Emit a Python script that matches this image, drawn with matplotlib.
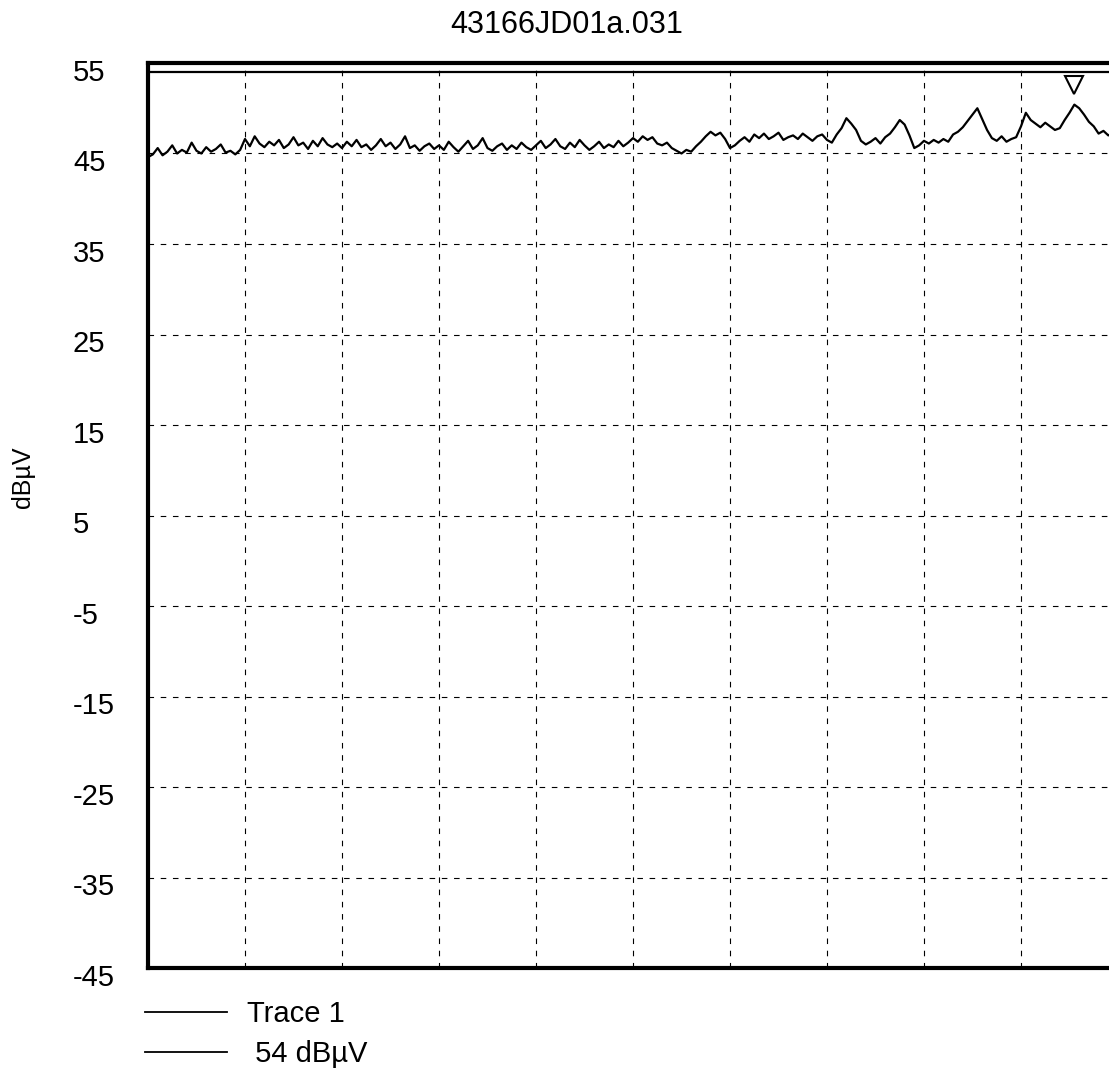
import numpy as np
import matplotlib
matplotlib.use("Agg")
import matplotlib.pyplot as plt
from matplotlib.transforms import blended_transform_factory, ScaledTranslation

plt.rcParams['font.family'] = ['Liberation Sans', 'DejaVu Sans']

title = "43166JD01a.031"
y_label = "dBµV"
y_ticks = [55, 45, 35, 25, 15, 5, -5, -15, -25, -35, -45]
x_grid = [0, 10, 20, 30, 40, 50, 60, 70, 80, 90, 100]
limit_value = 54
limit_label = " 54 dBµV"
trace_label = "Trace 1"

trace_values = [
    44.6, 44.9, 45.6, 44.8, 45.2, 45.9, 45.0, 45.4, 45.1, 46.2, 45.3, 45.0, 45.7, 45.2, 45.5, 46.0, 45.1, 45.3, 44.9, 45.4,
    46.6, 45.8, 46.9, 46.1, 45.7, 46.3, 45.9, 46.5, 45.6, 46.0, 46.8, 45.9, 46.2, 45.5, 46.4, 45.8, 46.7, 46.0, 45.7, 46.1,
    45.6, 46.3, 45.8, 46.5, 45.7, 46.0, 45.4, 45.9, 46.6, 45.8, 46.2, 45.5, 46.0, 46.9, 45.6, 45.9, 45.3, 45.8, 46.1, 45.5,
    45.9, 45.4, 46.3, 45.7, 45.2, 45.8, 46.4, 45.5, 45.9, 46.7, 45.6, 45.3, 45.8, 46.1, 45.4, 45.9, 45.5, 46.2, 45.7, 45.4,
    45.9, 46.4, 45.6, 46.0, 46.6, 45.8, 45.5, 46.2, 45.7, 46.5, 45.9, 45.4, 45.8, 46.3, 45.6, 46.0, 45.7, 46.4, 45.8, 46.2,
    46.7, 46.3, 46.9, 46.5, 46.8, 46.1, 45.9, 46.2, 45.6, 45.3, 45.0, 45.4, 45.2, 45.8, 46.3, 46.9, 47.4, 47.0, 47.3, 46.6,
    45.6, 45.9, 46.4, 46.8, 46.3, 47.1, 46.7, 47.2, 46.6, 46.9, 47.3, 46.5, 46.8, 47.0, 46.6, 47.2, 46.8, 46.4, 46.9, 47.1,
    46.5, 46.2, 47.1, 47.8, 48.9, 48.3, 47.6, 46.4, 46.0, 46.3, 46.7, 46.1, 46.8, 47.2, 47.9, 48.7, 48.2, 47.0, 45.6, 45.9,
    46.4, 46.1, 46.5, 46.2, 46.6, 46.3, 47.1, 47.4, 47.9, 48.6, 49.3, 50.0, 48.8, 47.6, 46.7, 46.4, 46.9, 46.3, 46.6, 46.8,
    48.0, 49.5, 48.7, 48.3, 47.9, 48.4, 48.0, 47.6, 47.8, 48.7, 49.5, 50.4, 50.0, 49.3, 48.5, 48.0, 47.2, 47.5, 47.0, 47.3,
]
trace_x = np.linspace(0, 99.5, len(trace_values))

marker_x = [95.5]
marker_y = [52.6]

W, H = 1109, 1072
fig = plt.figure(figsize=(W / 100, H / 100), dpi=100)
ax = fig.add_axes([148 / W, 1 - 968 / H, 970 / W, (968 - 63) / H])

ax.plot(trace_x, trace_values, color='black', lw=1.6, label=trace_label, zorder=3)
ax.axhline(limit_value, color='black', lw=1.6, label=limit_label, zorder=3)
ax.plot(marker_x, marker_y, marker='v', ms=13, mfc='white', mec='black', mew=1.5,
        ls='none', zorder=4)

ax.set_xlim(0, 100)
ax.set_ylim(-45, 55)
ax.set_xticks(x_grid)
ax.set_yticks(y_ticks)
ax.tick_params(axis='both', length=0, labelbottom=False, labelleft=False)
ax.grid(True, color='black', lw=0.8, ls=(0, (5, 6)))
for s in ax.spines.values():
    s.set_linewidth(3.0)
    s.set_color('black')

tr = blended_transform_factory(fig.transFigure, ax.transData) + ScaledTranslation(0, -7 / 72, fig.dpi_scale_trans)
for v in y_ticks:
    ax.text(73 / W, v, f"{v}", transform=tr, ha='left', va='center', fontsize=21)

fig.text(567 / W, 1 - 25 / H, title, ha='center', va='center', fontsize=22)
fig.text(23 / W, 1 - 477 / H, y_label, ha='center', va='center', rotation=90, fontsize=18)

ax.legend(loc='upper left', bbox_to_anchor=(145 / W, 1 - 1000 / H), bbox_transform=fig.transFigure,
          frameon=False, fontsize=21, handlelength=2.8, handletextpad=0.7, labelspacing=0.42,
          borderpad=0, borderaxespad=0)
for ln in ax.get_legend().get_lines():
    ln.set_linewidth(1.3)

fig.savefig("out.png", dpi=100)
